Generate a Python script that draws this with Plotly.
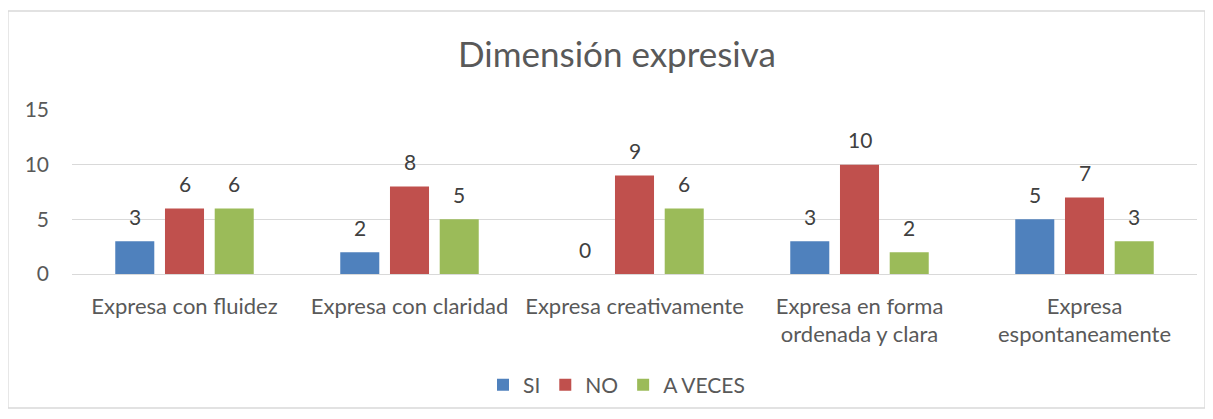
import plotly.graph_objects as go

# ─── Datos ───
categorias = [
    "Expresa con fluidez",
    "Expresa con claridad",
    "Expresa creativamente",
    "Expresa en forma<br>ordenada y clara",
    "Expresa<br>espontaneamente",
]
si = [3, 2, 0, 3, 5]
no = [6, 8, 9, 10, 7]
a_veces = [6, 5, 6, 2, 3]
y_ticks = [0, 5, 10, 15]

COLORS = {
    "si": "#4F81BD",
    "no": "#C0504D",
    "a_veces": "#9BBB59",
    "text": "#595959",
    "label": "#404040",
    "grid": "#D9D9D9",
}
FONT = "Lato, 'Open Sans', sans-serif"

series = [("SI", si, COLORS["si"]),
          ("NO", no, COLORS["no"]),
          ("A VECES", a_veces, COLORS["a_veces"])]

fig = go.Figure()
for nombre, vals, c in series:
    fig.add_trace(go.Bar(
        x=categorias, y=vals, name=nombre,
        marker=dict(color=c, line=dict(width=0)),
    ))

# etiquetas de datos (a ~25 px sobre cada barra, como en Excel)
slot_px = 49.7
for i, (nombre, vals, c) in enumerate(series):
    for cat, v in zip(categorias, vals):
        fig.add_annotation(x=cat, y=v, text=str(v), showarrow=False,
                           xshift=(i - 1) * slot_px, yshift=25,
                           font=dict(size=21, color=COLORS["label"], family=FONT))

# borde del gráfico
fig.add_shape(type="rect", xref="paper", yref="paper",
              x0=-0.0569, x1=1.0071, y0=-0.817, y1=1.6037,
              line=dict(color=COLORS["grid"], width=1.3), layer="below")

fig.update_layout(
    width=1213, height=419,
    paper_bgcolor="white", plot_bgcolor="white",
    font=dict(family=FONT, color=COLORS["text"], size=21),
    title=dict(text="Dimensión expresiva", x=0.502, xanchor="center",
               y=0.888, yanchor="middle",
               font=dict(size=35, color=COLORS["text"], family=FONT)),
    margin=dict(l=64, r=24, t=102, b=153, autoexpand=False),
    barmode="group", bargap=0.337, bargroupgap=0.215,
    showlegend=True,
    legend=dict(orientation="h", x=0.484, xanchor="center", y=-0.677, yanchor="middle",
                font=dict(size=21, color=COLORS["text"], family=FONT),
                itemwidth=30, traceorder="normal"),
    xaxis=dict(showgrid=False, showline=True, linecolor=COLORS["grid"], linewidth=1.3,
               ticks="", ticklabelstandoff=12, tickfont=dict(size=22, color=COLORS["text"])),
    yaxis=dict(range=[0, 15], tickvals=y_ticks, showgrid=True, gridcolor=COLORS["grid"],
               gridwidth=1.3, zeroline=False, ticks="", ticklabelstandoff=22,
               tickfont=dict(size=21, color=COLORS["text"])),
)

fig.write_html("out.html")
